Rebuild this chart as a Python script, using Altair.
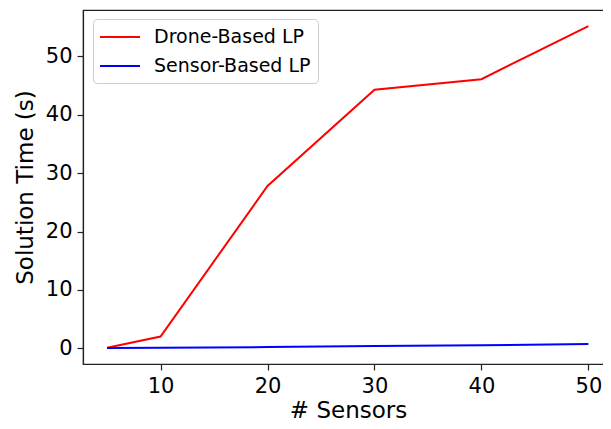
import altair as alt
import pandas as pd

sensors = [5, 10, 20, 30, 40, 50]
drone_lp = [0.1, 2.0, 27.8, 44.3, 46.1, 55.2]
sensor_lp = [0.03, 0.08, 0.2, 0.4, 0.5, 0.72]
series_names = ["Drone-Based LP", "Sensor-Based LP"]
x_ticks = [10, 20, 30, 40, 50]
y_ticks = [0, 10, 20, 30, 40, 50]

rows = []
for x, d, s in zip(sensors, drone_lp, sensor_lp):
    rows.append({"n": x, "t": d, "series": series_names[0]})
    rows.append({"n": x, "t": s, "series": series_names[1]})
df = pd.DataFrame(rows)

font = "DejaVu Sans"

chart = alt.Chart(df).mark_line(strokeWidth=2, clip=True).encode(
    x=alt.X("n:Q", scale=alt.Scale(domain=[2.75, 52.3], nice=False, zero=False),
            axis=alt.Axis(values=x_ticks, title="# Sensors", grid=False)),
    y=alt.Y("t:Q", scale=alt.Scale(domain=[-2.7, 57.95], nice=False, zero=False),
            axis=alt.Axis(values=y_ticks, title="Solution Time (s)", grid=False)),
    color=alt.Color("series:N",
                    scale=alt.Scale(domain=series_names, range=["#ff0000", "#0000ff"]),
                    legend=alt.Legend(title=None, orient="none", legendX=10, legendY=9,
                                      symbolType="M-1.1,0H2.9", symbolSize=400,
                                      symbolStrokeWidth=2, labelFontSize=19,
                                      labelFont=font, labelColor="black",
                                      fillColor="white", strokeColor="#cccccc",
                                      cornerRadius=4, padding=7, rowPadding=8,
                                      labelOffset=32)),
).properties(
    width=530, height=354,
    autosize=alt.AutoSizeParams(type="none"),
    padding={"left": 75, "top": 2, "right": -10, "bottom": 57},
).configure_view(
    stroke="#222222", strokeWidth=1.2
).configure_axis(
    labelFont=font, titleFont=font, labelFontSize=21, titleFontSize=23,
    labelColor="black", titleColor="black", titleFontWeight="normal",
    domainColor="#222222", tickColor="#222222", tickSize=6, labelPadding=5,
    domainWidth=1.2, tickWidth=1.2
).configure_axisX(titlePadding=3).configure_axisY(titlePadding=8)

chart.save("out.html", embed_options={"renderer": "svg", "actions": False})
